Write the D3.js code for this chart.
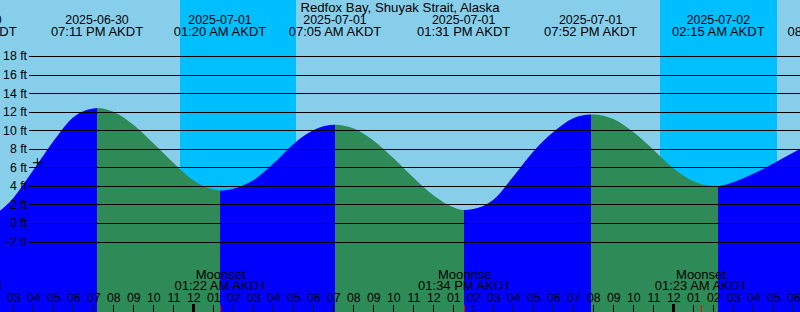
<!DOCTYPE html>
<html><head><meta charset="utf-8">
<script src="https://cdn.jsdelivr.net/npm/d3@7"></script>
<style>
body{margin:0;background:#fff;}
svg{display:block;}
text{font-family:"Liberation Sans",Arial,sans-serif;font-size:13px;fill:#000;}
</style>
</head><body>
<svg id="chart" width="800" height="312"></svg>
<script>
// ---- data ----
const title = "Redfox Bay, Shuyak Strait, Alaska";
const domainStart = "2025-06-30T14:20";
const domainEnd = "2025-07-02T06:20";

const hourTimes = [
  "2025-06-30T13:00","2025-06-30T14:00","2025-06-30T15:00","2025-06-30T16:00","2025-06-30T17:00",
  "2025-06-30T18:00","2025-06-30T19:00","2025-06-30T20:00","2025-06-30T21:00","2025-06-30T22:00",
  "2025-06-30T23:00","2025-07-01T00:00","2025-07-01T01:00","2025-07-01T02:00","2025-07-01T03:00",
  "2025-07-01T04:00","2025-07-01T05:00","2025-07-01T06:00","2025-07-01T07:00","2025-07-01T08:00",
  "2025-07-01T09:00","2025-07-01T10:00","2025-07-01T11:00","2025-07-01T12:00","2025-07-01T13:00",
  "2025-07-01T14:00","2025-07-01T15:00","2025-07-01T16:00","2025-07-01T17:00","2025-07-01T18:00",
  "2025-07-01T19:00","2025-07-01T20:00","2025-07-01T21:00","2025-07-01T22:00","2025-07-01T23:00",
  "2025-07-02T00:00","2025-07-02T01:00","2025-07-02T02:00","2025-07-02T03:00","2025-07-02T04:00",
  "2025-07-02T05:00","2025-07-02T06:00","2025-07-02T07:00"
];
const hourHeights = [
  -0.15, 0.8, 2.7, 5.7, 8.8,
  11.4, 12.35, 12.0, 10.6, 8.6,
  6.5, 4.6, 3.6, 3.7, 4.6,
  6.4, 8.5, 10.0, 10.6, 10.2,
  8.9, 7.0, 4.9, 3.0, 1.7,
  1.5, 2.5, 5.0, 7.7, 9.8,
  11.3, 11.7, 11.2, 9.8, 7.9,
  5.9, 4.5, 4.0, 4.4, 5.3,
  6.4, 7.6, 8.6
];

const extremeTimes = ["2025-06-30T12:50","2025-06-30T19:11","2025-07-01T01:20","2025-07-01T07:05",
                      "2025-07-01T13:31","2025-07-01T19:52","2025-07-02T02:15","2025-07-02T08:01"];
const extremeHeights = [-0.2, 12.4, 3.5, 10.6, 1.4, 11.7, 4.0, 9.2];
const extremeTypes = ["L","H","L","H","L","H","L","H"];

const nightStarts = ["2025-06-30T23:20","2025-07-01T23:20"];
const nightEnds   = ["2025-07-01T05:08","2025-07-02T05:10"];

const moonTimes  = ["2025-06-30T12:13","2025-07-01T01:22","2025-07-01T13:34","2025-07-02T01:23"];
const moonEvents = ["Moonrise","Moonset","Moonrise","Moonset"];

const yTicks = [-2,0,2,4,6,8,10,12,14,16,18];

const nowTime = "2025-06-30T16:12";
const nowHeight = 6.5;

// ---- drawing ----
const W = 800, H = 312;
const FONT = '"Liberation Sans",Arial,sans-serif';
const parse = d3.timeParse("%Y-%m-%dT%H:%M");
const svg = d3.select("#chart");

const x = d3.scaleTime().domain([parse(domainStart), parse(domainEnd)]).range([0, W]);
const y = d3.scaleLinear().domain([0, 18]).range([223, 56]);

const colDay = "#87CEEB", colNight = "#00BFFF", colRise = "#0000FF", colFall = "#2E8B57";

// background
svg.append("rect").attr("width", W).attr("height", H).attr("fill", colDay);
svg.append("g").selectAll("rect").data(nightStarts.map((s, i) => [parse(s), parse(nightEnds[i])]))
  .join("rect")
  .attr("x", d => x(d[0])).attr("width", d => x(d[1]) - x(d[0]))
  .attr("y", 0).attr("height", H).attr("fill", colNight)
  .attr("shape-rendering", "crispEdges");

// water
const pts = hourTimes.map((t, i) => ({t: parse(t), h: hourHeights[i]}))
  .concat(extremeTimes.map((t, i) => ({t: parse(t), h: extremeHeights[i]})))
  .sort((a, b) => a.t - b.t);
const area = d3.area().x(d => x(d.t)).y0(H).y1(d => y(d.h)).curve(d3.curveMonotoneX);
svg.append("clipPath").attr("id", "water").append("path").attr("d", area(pts));

const ext = extremeTimes.map((t, i) => ({t: parse(t), type: extremeTypes[i]}));
const segs = [];
for (let i = 0; i < ext.length - 1; i++) {
  segs.push({a: ext[i].t, b: ext[i + 1].t, rising: ext[i + 1].type === "H"});
}
svg.append("g").attr("clip-path", "url(#water)").selectAll("rect").data(segs).join("rect")
  .attr("x", d => x(d.a)).attr("width", d => x(d.b) - x(d.a))
  .attr("y", 0).attr("height", H)
  .attr("fill", d => d.rising ? colRise : colFall)
  .attr("shape-rendering", "crispEdges");

// grid + y labels
const yAxis = d3.axisLeft(y).tickValues(yTicks).tickFormat(d => d + " ft")
  .tickSizeInner(-(W - 29)).tickSizeOuter(0).tickPadding(2);
const gy = svg.append("g").attr("transform", "translate(29,0)").call(yAxis);
gy.select(".domain").remove();
gy.selectAll("line").attr("stroke", "#000").attr("shape-rendering", "crispEdges");
gy.selectAll("text").attr("fill", "#000").style("font-size", "12.3px").style("font-family", FONT);

// current time marker
const nx = x(parse(nowTime)), ny = y(nowHeight);
svg.append("path").attr("d", `M${nx - 4.5},${ny}H${nx + 4.5}M${nx},${ny - 4.5}V${ny + 4.5}`)
  .attr("stroke", "#000").attr("stroke-width", 1).attr("fill", "none");

// title
svg.append("text").attr("x", W / 2).attr("y", 11.5).attr("text-anchor", "middle")
  .style("font-size", "13.2px").text(title);

// tide extreme labels
const fDate = d3.timeFormat("%Y-%m-%d"), fTime = d3.timeFormat("%I:%M %p AKDT");
const gl = svg.append("g").selectAll("g").data(ext).join("g")
  .attr("transform", d => `translate(${x(d.t)},0)`);
gl.append("text").attr("y", 24).attr("text-anchor", "middle").style("font-size", "12.4px")
  .text(d => fDate(d.t));
gl.append("text").attr("y", 36).attr("text-anchor", "middle").style("font-size", "13px")
  .text(d => fTime(d.t));

// moon labels
const moon = moonTimes.map((t, i) => ({t: parse(t), ev: moonEvents[i]}));
const gm = svg.append("g").selectAll("g").data(moon).join("g")
  .attr("transform", d => `translate(${x(d.t)},0)`);
gm.append("text").attr("y", 278.5).attr("text-anchor", "middle").style("font-size", "13px")
  .text(d => d.ev);
gm.append("text").attr("y", 289.5).attr("text-anchor", "middle").style("font-size", "13px")
  .text(d => fTime(d.t));

// hour axis
const xAxis = d3.axisTop(x).ticks(d3.timeHour.every(1)).tickFormat(d3.timeFormat("%I"))
  .tickSize(7).tickPadding(3).tickSizeOuter(0);
const gx = svg.append("g").attr("transform", `translate(0,${H})`).call(xAxis);
gx.select(".domain").remove();
gx.selectAll("line").attr("stroke", "#000").attr("shape-rendering", "crispEdges");
gx.selectAll("text").attr("fill", "#000").style("font-size", "12.3px").style("font-family", FONT);
gx.selectAll(".tick").filter(d => d.getHours() === 0).select("line")
  .attr("stroke-width", 3).attr("y2", -8);

// moon ticks
svg.append("g").selectAll("line").data(moon).join("line")
  .attr("x1", d => x(d.t)).attr("x2", d => x(d.t))
  .attr("y1", H - 7).attr("y2", H)
  .attr("stroke", "#f00").attr("shape-rendering", "crispEdges");
</script>
</body></html>
